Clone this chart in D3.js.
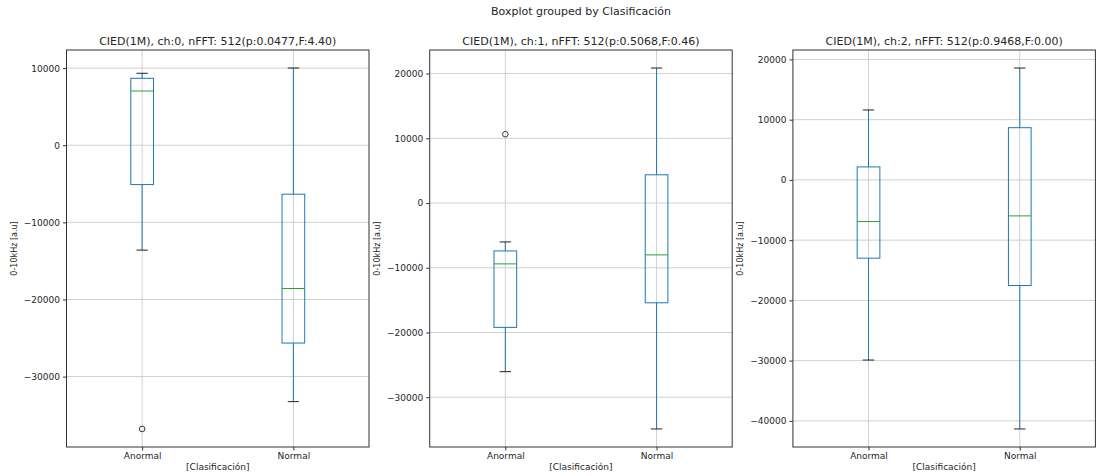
<!DOCTYPE html>
<html>
<head>
<meta charset="utf-8">
<script src="https://d3js.org/d3.v7.min.js"></script>
<style>
body { margin: 0; background: #fff; }
text { font-family: 'DejaVu Sans', sans-serif; fill: #262626; }
</style>
</head>
<body>
<svg id="chart" width="1096" height="476"></svg>
<script>
// categories on the x axis of every panel
var categories = ["Anormal", "Normal"];

var panelTitles = [
    "CIED(1M), ch:0, nFFT: 512(p:0.0477,F:4.40)",
    "CIED(1M), ch:1, nFFT: 512(p:0.5068,F:0.46)",
    "CIED(1M), ch:2, nFFT: 512(p:0.9468,F:0.00)"
];

// [lower whisker, Q1, median, Q3, upper whisker] for Anormal, Normal
var ch0Stats = [[-13600, -5100, 7030, 8680, 9330], [-33250, -25650, -18580, -6350, 10010]];
var ch1Stats = [[-26050, -19210, -9400, -7400, -6010], [-34900, -15410, -8010, 4360, 20850]];
var ch2Stats = [[-29900, -12990, -6910, 2160, 11610], [-41340, -17530, -5970, 8670, 18570]];

// fliers
var ch0Outliers = [[-36790], []];
var ch1Outliers = [[10630], []];
var ch2Outliers = [[], []];

var ch0Ticks = [-30000, -20000, -10000, 0, 10000];
var ch1Ticks = [-30000, -20000, -10000, 0, 10000, 20000];
var ch2Ticks = [-40000, -30000, -20000, -10000, 0, 10000, 20000];

var panels = [
    {title: panelTitles[0], stats: ch0Stats, outliers: ch0Outliers, ticks: ch0Ticks},
    {title: panelTitles[1], stats: ch1Stats, outliers: ch1Outliers, ticks: ch1Ticks},
    {title: panelTitles[2], stats: ch2Stats, outliers: ch2Outliers, ticks: ch2Ticks}
];

var svg = d3.select("#chart");
var plotTop = 50, plotBottom = 447;
var panelW = 302.5, panelStep = 363.2, firstLeft = 66.5;

var boxColor = "#1f77b4", medianColor = "#2ca02c", gridColor = "#d0d0d0";

svg.append("text")
    .attr("x", 581)
    .attr("y", 15)
    .attr("text-anchor", "middle")
    .style("font-size", "11px")
    .text("Boxplot grouped by Clasificación");

panels.forEach(function (p, pi) {
    var left = firstLeft + pi * panelStep;
    var g = svg.append("g");

    // matplotlib style autoscale: data range plus 5% margin
    var allVals = [];
    p.stats.forEach(function (s) { allVals.push(s[0], s[4]); });
    p.outliers.forEach(function (o) { allVals = allVals.concat(o); });
    var lo = d3.min(allVals), hi = d3.max(allVals), pad = (hi - lo) * 0.05;

    var y = d3.scaleLinear().domain([lo - pad, hi + pad]).range([plotBottom, plotTop]);
    var x = d3.scaleLinear().domain([0.5, 2.5]).range([left, left + panelW]);

    // grid
    g.selectAll("line.hgrid").data(p.ticks).enter().append("line")
        .attr("x1", left).attr("x2", left + panelW)
        .attr("y1", function (d) { return y(d); })
        .attr("y2", function (d) { return y(d); })
        .attr("stroke", gridColor).attr("stroke-width", 1);
    g.selectAll("line.vgrid").data(categories).enter().append("line")
        .attr("x1", function (d, i) { return x(i + 1); })
        .attr("x2", function (d, i) { return x(i + 1); })
        .attr("y1", plotTop).attr("y2", plotBottom)
        .attr("stroke", gridColor).attr("stroke-width", 1);

    // y axis
    var yAxis = d3.axisLeft(y).tickValues(p.ticks).tickSize(3.5).tickPadding(3)
        .tickFormat(function (d) { return d < 0 ? "\u2212" + Math.abs(d) : d; });
    var ya = g.append("g").attr("transform", "translate(" + left + ",0)").call(yAxis);
    ya.select(".domain").remove();
    ya.selectAll("line").attr("stroke", "#333");
    ya.selectAll("text").style("font-size", "9px").attr("fill", "#262626");

    // x axis
    var xAxis = d3.axisBottom(x).tickValues([1, 2]).tickSize(3.5).tickPadding(2)
        .tickFormat(function (d) { return categories[d - 1]; });
    var xa = g.append("g").attr("transform", "translate(0," + plotBottom + ")").call(xAxis);
    xa.select(".domain").remove();
    xa.selectAll("line").attr("stroke", "#333");
    xa.selectAll("text").style("font-size", "9px").attr("fill", "#262626");

    // boxes
    var half = 0.075, capHalf = 0.0375;
    p.stats.forEach(function (s, ci) {
        var pos = ci + 1;
        var b = g.append("g");
        // whiskers
        b.append("line").attr("x1", x(pos)).attr("x2", x(pos))
            .attr("y1", y(s[1])).attr("y2", y(s[0]))
            .attr("stroke", boxColor).attr("stroke-width", 1);
        b.append("line").attr("x1", x(pos)).attr("x2", x(pos))
            .attr("y1", y(s[3])).attr("y2", y(s[4]))
            .attr("stroke", boxColor).attr("stroke-width", 1);
        // caps
        [s[0], s[4]].forEach(function (v) {
            b.append("line").attr("x1", x(pos - capHalf)).attr("x2", x(pos + capHalf))
                .attr("y1", y(v)).attr("y2", y(v))
                .attr("stroke", "#222").attr("stroke-width", 1);
        });
        // box
        b.append("rect")
            .attr("x", x(pos - half)).attr("width", x(pos + half) - x(pos - half))
            .attr("y", y(s[3])).attr("height", y(s[1]) - y(s[3]))
            .attr("fill", "none").attr("stroke", boxColor).attr("stroke-width", 1);
        // median
        b.append("line").attr("x1", x(pos - half)).attr("x2", x(pos + half))
            .attr("y1", y(s[2])).attr("y2", y(s[2]))
            .attr("stroke", medianColor).attr("stroke-width", 1);
        // fliers
        p.outliers[ci].forEach(function (v) {
            b.append("circle").attr("cx", x(pos)).attr("cy", y(v)).attr("r", 2.8)
                .attr("fill", "none").attr("stroke", "#222").attr("stroke-width", 0.9);
        });
    });

    // frame
    g.append("rect").attr("x", left).attr("y", plotTop)
        .attr("width", panelW).attr("height", plotBottom - plotTop)
        .attr("fill", "none").attr("stroke", "#333").attr("stroke-width", 1);

    // titles and labels
    g.append("text")
        .attr("x", left + panelW / 2).attr("y", 45)
        .attr("text-anchor", "middle")
        .style("font-size", "11px")
        .text(p.title);

    g.append("text")
        .attr("x", left + panelW / 2).attr("y", 470)
        .attr("text-anchor", "middle")
        .style("font-size", "9px")
        .text("[Clasificación]");

    g.append("text")
        .attr("transform", "translate(" + (left - 50) + "," + ((plotTop + plotBottom) / 2) + ") rotate(-90)")
        .attr("text-anchor", "middle")
        .style("font-size", "8px")
        .text("0-10kHz [a.u]");
});
</script>
</body>
</html>
